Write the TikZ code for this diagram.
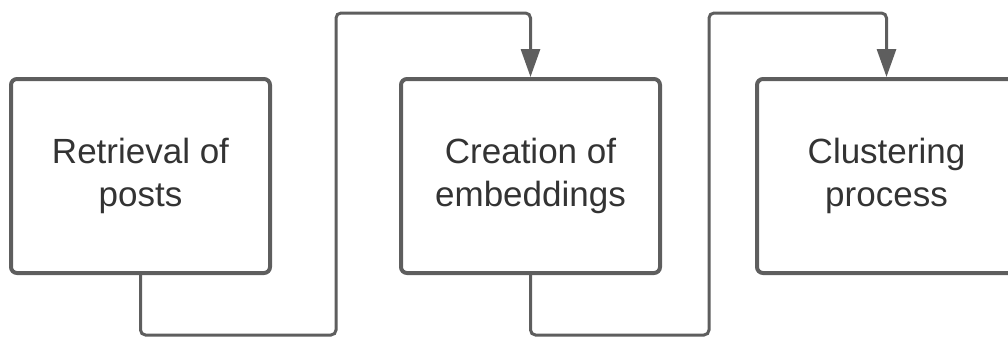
\documentclass[tikz,border=0pt]{standalone}
\usepackage{fontspec}
\setmainfont{Liberation Sans}
\usetikzlibrary{arrows.meta,positioning}
\definecolor{linegray}{HTML}{5E5E5E}
\definecolor{textgray}{HTML}{333333}

\begin{document}
\begin{tikzpicture}[x=1pt,y=-1pt,
    stage node/.style={rectangle,draw=linegray,line width=4pt,rounded corners=6pt,
      minimum width=259pt,minimum height=194pt,align=center,text=textgray,
      font=\fontsize{35}{43}\selectfont},
    flow/.style={draw=linegray,line width=3pt,rounded corners=5pt,
      -{Triangle[width=19pt,length=28pt]}}]
  \useasboundingbox (0,0) rectangle (1008,340);
  \clip (0,0) rectangle (1008,340);
  % pipeline stages
  \node[stage node] (ret) at (140.5,176) {Retrieval of\\posts};
  \node[stage node] (emb) [right=127pt of ret] {Creation of\\embeddings};
  \node[stage node] (clu) [right=93pt of emb] {Clustering\\process};

  \coordinate (low1) at (336,335);
  \coordinate (top1) at (336,13);
  \coordinate (low2) at (709,335);
  \coordinate (top2) at (709,13);

  \draw[flow] (ret.south) |- (low1) -- (top1) -| (emb.north);
  \draw[flow] (emb.south) |- (low2) -- (top2) -| (clu.north);
\end{tikzpicture}
\end{document}
